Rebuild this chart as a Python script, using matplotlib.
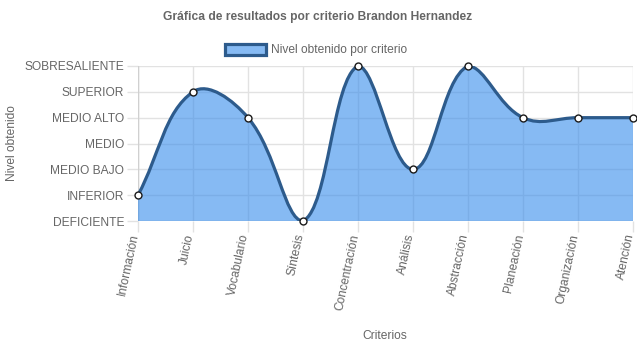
import matplotlib
matplotlib.use("Agg")
import matplotlib.pyplot as plt
import matplotlib.transforms as mtransforms
import numpy as np
from matplotlib.path import Path
from matplotlib.patches import PathPatch, Patch

criterios = ["Información", "Juicio", "Vocabulario", "Síntesis", "Concentración",
             "Análisis", "Abstracción", "Planeación", "Organización", "Atención"]
niveles = ["DEFICIENTE", "INFERIOR", "MEDIO BAJO", "MEDIO", "MEDIO ALTO",
           "SUPERIOR", "SOBRESALIENTE"]
valores = [1, 5, 4, 0, 6, 2, 6, 4, 4, 4]

fill_col = (54 / 255, 140 / 255, 235 / 255, 0.6)
legend_fill = "#86baf3"
line_col = "#2d5b8c"
grey = "#666666"
grid_col = "#e2e2e2"

plt.rcParams["font.family"] = ["Liberation Sans", "DejaVu Sans"]
fs = 8.64

fig = plt.figure(figsize=(6.37, 3.48), dpi=100)
ax = fig.add_axes([138 / 637, 1 - 221 / 348, 495 / 637, 155 / 348])

x = np.arange(len(criterios), dtype=float)
y = np.array(valores, dtype=float)

# chart.js style spline (tension 0.4), computed in pixel space
sx = 495 / 9
sy = 155 / 6
px, py = x * sx, y * sy
t = 0.4
c1, c2 = [], []
n = len(px)
for i in range(n):
    p0 = (px[max(i - 1, 0)], py[max(i - 1, 0)])
    p1 = (px[i], py[i])
    p2 = (px[min(i + 1, n - 1)], py[min(i + 1, n - 1)])
    d01 = np.hypot(p1[0] - p0[0], p1[1] - p0[1])
    d12 = np.hypot(p2[0] - p1[0], p2[1] - p1[1])
    s01 = d01 / (d01 + d12) if d01 + d12 else 0
    s12 = d12 / (d01 + d12) if d01 + d12 else 0
    fa, fb = t * s01, t * s12
    prev = [p1[0] - fa * (p2[0] - p0[0]), p1[1] - fa * (p2[1] - p0[1])]
    nxt = [p1[0] + fb * (p2[0] - p0[0]), p1[1] + fb * (p2[1] - p0[1])]
    for c in (prev, nxt):
        c[0] = min(max(c[0], 0), 495)
        c[1] = min(max(c[1], 0), 155)
    c1.append((prev[0] / sx, prev[1] / sy))
    c2.append((nxt[0] / sx, nxt[1] / sy))

verts = [(x[0], y[0])]
codes = [Path.MOVETO]
for i in range(n - 1):
    verts += [c2[i], c1[i + 1], (x[i + 1], y[i + 1])]
    codes += [Path.CURVE4] * 3

fill_verts = verts + [(x[-1], 0), (x[0], 0), (x[0], y[0])]
fill_codes = codes + [Path.LINETO, Path.LINETO, Path.CLOSEPOLY]

ax.add_patch(PathPatch(Path(fill_verts, fill_codes), facecolor=fill_col,
                       edgecolor="none", zorder=2))
ax.add_patch(PathPatch(Path(verts, codes), facecolor="none", edgecolor=line_col,
                       linewidth=2.3, zorder=3, capstyle="round"))
ax.plot(x, y, "o", ms=5, mfc="white", mec="#1a1a1a", mew=1, zorder=4, clip_on=False)

ax.set_xlim(0, 9)
ax.set_ylim(0, 6)
ax.set_xticks(x)
ax.set_xticklabels([])
# rotated category labels, nudged a little left like chart.js does
lab_tr = ax.get_xaxis_transform() + mtransforms.ScaledTranslation(-2.5 / 100, -13 / 100,
                                                                    fig.dpi_scale_trans)
for xi, name in zip(x, criterios):
    ax.text(xi, 0, name, transform=lab_tr, rotation=78, ha="right", va="center",
            rotation_mode="anchor", color=grey, fontsize=fs)
ax.set_yticks(range(len(niveles)))
ax.set_yticklabels(niveles, color=grey, fontsize=fs)
ax.tick_params(axis="both", color=grid_col, length=8, width=1)
ax.tick_params(axis="y", pad=2)
ax.grid(True, color=grid_col, linewidth=1, zorder=1)
ax.set_axisbelow(True)
for s in ax.spines.values():
    s.set_visible(False)
ax.axvline(0, color="#d0d0d0", lw=1, zorder=1)
ax.axhline(0, color="#d0d0d0", lw=1, zorder=1)

fig.text(385 / 637, 1 - 336 / 348, "Criterios", ha="center", va="center",
         color=grey, fontsize=fs)
fig.text(12 / 637, 1 - 143 / 348, "Nivel obtenido", ha="center", va="center",
         rotation=90, color=grey, fontsize=fs)
fig.text(318 / 637, 1 - 17 / 348, "Gráfica de resultados por criterio Brandon Hernandez",
         ha="center", va="center", color=grey, fontsize=fs, fontweight="bold")

leg = fig.legend(handles=[Patch(facecolor=legend_fill, edgecolor=line_col, linewidth=2.3,
                                label="Nivel obtenido por criterio")],
                 loc="center", bbox_to_anchor=(316 / 637, 1 - 50 / 348), frameon=False,
                 fontsize=fs, handlelength=3.4, handleheight=1.1, handletextpad=0.4)
for txt in leg.get_texts():
    txt.set_color(grey)

fig.savefig("out.png", dpi=100)
